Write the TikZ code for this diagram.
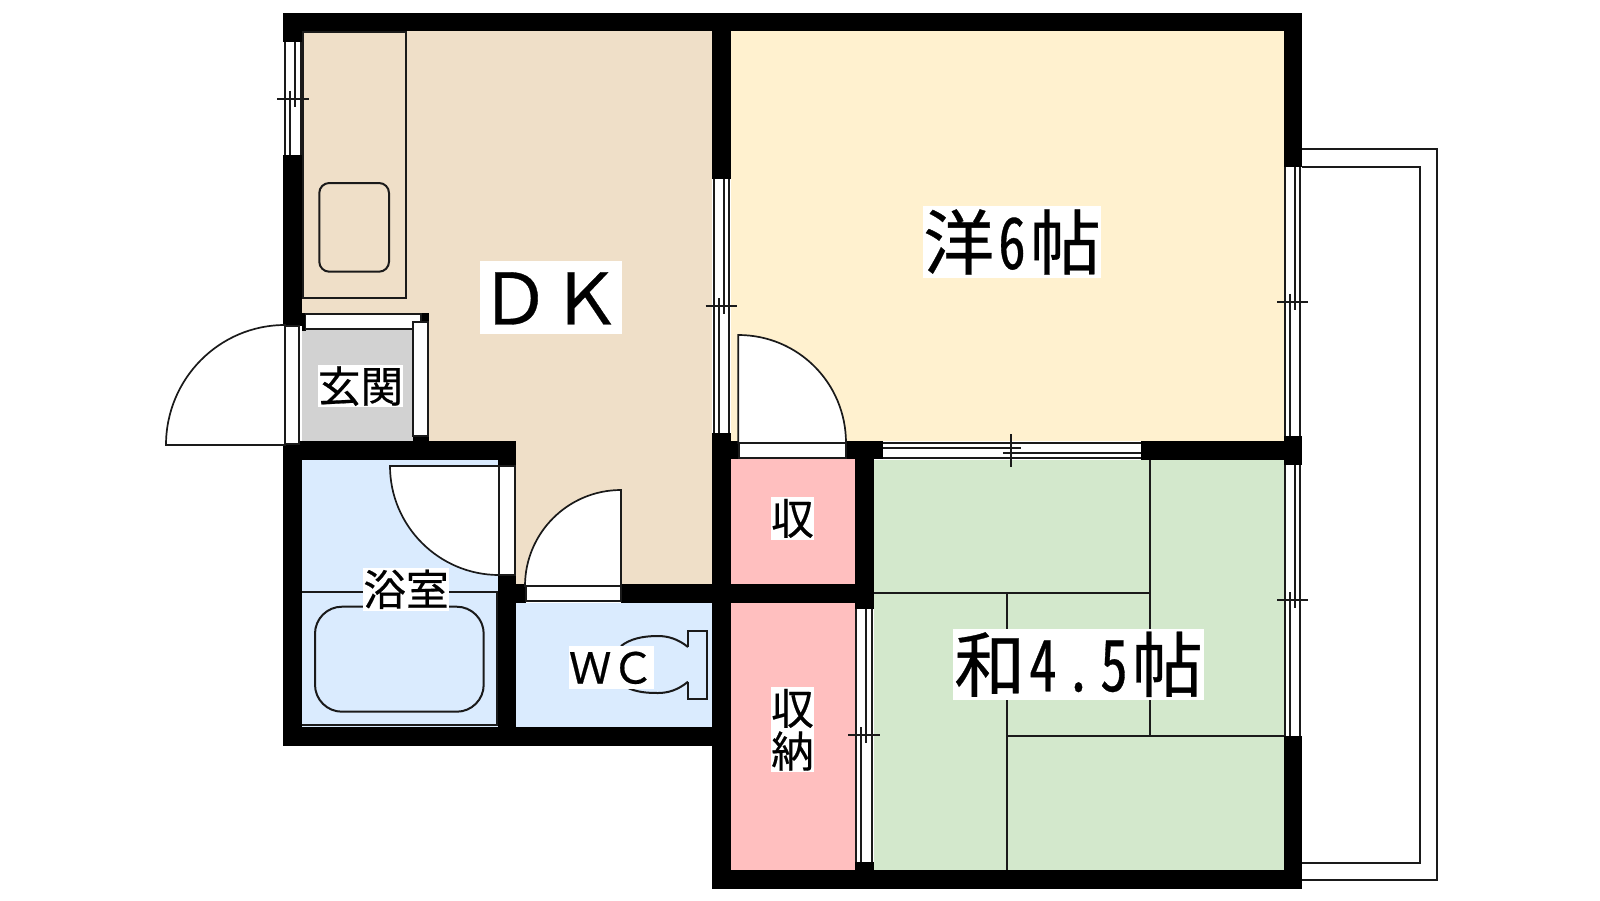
\documentclass[tikz,border=0pt]{standalone}
\usepackage{fontspec}
\newfontfamily\ja[FakeBold=0.45]{Noto Sans CJK JP}
\newfontfamily\jahw[FakeBold=0.45,FakeStretch=0.78,RawFeature=+hwid]{Noto Sans CJK JP}
\newcommand{\hwc}[1]{\makebox[.5em][c]{\jahw #1}}
\definecolor{dkc}{HTML}{EFDFC8}
\definecolor{yoc}{HTML}{FFF1CF}
\definecolor{wac}{HTML}{D3E8CC}
\definecolor{bac}{HTML}{DAEBFE}
\definecolor{shc}{HTML}{FFBFBF}
\definecolor{gec}{HTML}{D2D2D2}
\definecolor{linec}{HTML}{1A1A1A}
\tikzset{
  wall/.style={fill=black,draw=none},
  thin line/.style={draw=linec,line width=.85pt},
  fixture/.style={draw=linec,line width=1pt},
  pane/.style={fill=white,draw=linec,line width=.85pt},
  tag/.style={fill=white,inner sep=0pt,text=black,anchor=center},
  bigtag/.style={tag,text height=31.24pt,text depth=4.26pt,font=\ja\fontsize{35.5}{35.5}\selectfont},
  smalltag/.style={tag,text height=18.77pt,text depth=2.56pt,font=\ja\fontsize{21.33}{21.33}\selectfont},
}
% vertical sliding window: x1 x2 y1 y2 midy
\newcommand{\vwin}[5]{%
  \fill[white] (#1,#3) rectangle (#2,#4);
  \draw[thin line] (#1,#3) -- (#1,#4) (#2,#3) -- (#2,#4);
  \draw[thin line] ({#1+5},{#5-8}) -- ({#1+5},#4);
  \draw[thin line] ({#1+10},#3) -- ({#1+10},{#5+8});
  \draw[thin line] ({#1-8},#5) -- ({#2+8},#5);
}
\begin{document}
\begin{tikzpicture}[x=.5pt,y=-.5pt]
\useasboundingbox (0,0) rectangle (1600,900);
% floors
\fill[dkc] (302,31) rectangle (712,584);
\fill[yoc] (731,31) rectangle (1284,441);
\fill[wac] (874,460) rectangle (1284,870);
\fill[shc] (731,459) rectangle (855,584);
\fill[shc] (731,603) rectangle (855,870);
\fill[bac] (302,460) rectangle (498,727);
\fill[bac] (516,603) rectangle (712,727);
\fill[gec] (302,330) rectangle (413,441);
% balcony
\draw[thin line] (1302,149.3) -- (1436.7,149.3) -- (1436.7,880.3) -- (1302,880.3);
\draw[thin line] (1302,166.7) -- (1419.7,166.7) -- (1419.7,863.3) -- (1302,863.3);
% kitchen counter and sink
\draw[thin line] (303,32) rectangle (405.7,298);
\draw[fixture,rounded corners=5pt] (319.3,183) rectangle (389,271.7);
% bath
\draw[thin line] (302,591.7) -- (497,591.7) -- (497,725) -- (302,725);
\draw[fixture,rounded corners=13.5pt] (315,606.7) rectangle (483.7,711.7);
% toilet
\draw[fixture] (688,647) .. controls (678,639) and (668,636) .. (658,636) .. controls (642,636) and (630,639) .. (621,646);
\draw[fixture] (688,681.7) .. controls (678,690) and (668,693) .. (658,693) .. controls (646,693) and (637,692) .. (628,688);
\draw[fixture] (688,647) -- (688,631) -- (707,631) -- (707,698.7) -- (688,698.7) -- (688,681.7);
% tatami
\draw[thin line] (874,593.3) -- (1150.3,593.3);
\draw[thin line] (1150.3,460) -- (1150.3,736);
\draw[thin line] (1007.3,593.3) -- (1007.3,870);
\draw[thin line] (1007.3,736) -- (1284,736);
% walls
\path[wall] (283,13) rectangle (1302,31);
\path[wall] (283,13) rectangle (302,42);
\path[wall] (283,155) rectangle (302,326);
\path[wall] (302,313) rectangle (305.5,331);
\path[wall] (283,441) rectangle (302,746);
\path[wall] (283,441) rectangle (515.7,460);
\path[wall] (498,441) rectangle (515.7,466);
\path[wall] (498,575.7) rectangle (516,746);
\path[wall] (516,584) rectangle (526,602.7);
\path[wall] (283,727) rectangle (731,746);
\path[wall] (621,584) rectangle (874,602.7);
\path[wall] (712,13) rectangle (731,178.6);
\path[wall] (712,433) rectangle (731,889);
\path[wall] (731,441) rectangle (739,459.3);
\path[wall] (846,441) rectangle (883,459.3);
\path[wall] (855,459) rectangle (874,609);
\path[wall] (855,862.3) rectangle (874,889);
\path[wall] (712,870) rectangle (1302,889);
\path[wall] (1141,441) rectangle (1302,460);
\path[wall] (1284,13) rectangle (1302,166.7);
\path[wall] (1284,435.7) rectangle (1302,465.3);
\path[wall] (1284,735.7) rectangle (1302,889);
\path[wall] (420.7,313) rectangle (429,322);
\path[wall] (413,435.7) rectangle (429,441);
% windows
\vwin{285}{301}{42}{155}{98.7}
\vwin{713.7}{729}{178.6}{433}{306}
\vwin{1285.3}{1300.3}{166.7}{435.7}{301.7}
\vwin{1285.3}{1300.3}{465.3}{735.7}{600.3}
\vwin{856.3}{872.3}{609}{862.3}{735}
\fill[white] (883,443.3) rectangle (1141,458.3);
\draw[thin line] (883,443.3) -- (1141,443.3) (883,458.3) -- (1141,458.3);
\draw[thin line] (883,448.3) -- (1020.7,448.3);
\draw[thin line] (1003.3,452.7) -- (1141,452.7);
\draw[thin line] (1011.3,434.3) -- (1011.3,466.7);
% entrance partition
\path[pane] (305.5,314) rectangle (420.7,329);
\path[pane] (413,322) rectangle (428,435.7);
% door frames
\path[pane] (285,326) rectangle (299,444);
\path[pane] (499,466) rectangle (515,575);
\path[pane] (526,586) rectangle (621,600.7);
\path[pane] (739,443.3) rectangle (846,458.3);
% door leaves
\path[pane] (285,325) .. controls (219,325) and (166,379) .. (166,445) -- (285,445) -- cycle;
\path[pane] (390,466) .. controls (390,526) and (439,575) .. (499,575) -- (499,466) -- cycle;
\path[pane] (525,586) .. controls (525,533) and (568,490) .. (621,490) -- (621,586) -- cycle;
\path[pane] (738.3,335) .. controls (798,335) and (846,383) .. (846,443) -- (738.3,443) -- cycle;
% labels
\node[bigtag,minimum width=70.5pt,minimum height=36.5pt] (dk) at (550.5,297.5) {ＤＫ};
\node[bigtag,minimum width=89pt,minimum height=35.75pt] (yo) at (1012,242) {洋\hwc{6}帖};
\node[bigtag,minimum width=125.5pt,minimum height=35.35pt] (wa) at (1078.5,664.3) {和\hwc{4}\hwc{.}\hwc{5}帖};
\node[smalltag,minimum width=42.5pt,minimum height=21pt] (ge) at (360.5,386) {玄関};
\node[smalltag,minimum width=43pt,minimum height=21.35pt] (yu) at (406,589.3) {浴室};
\node[smalltag,minimum width=42.5pt,minimum height=21.35pt] (wc) at (611.5,667.3) {ＷＣ};
\node[smalltag,minimum width=21.5pt,minimum height=21.35pt] (sh) at (792.5,518.3) {収};
\node[smalltag,minimum width=21.5pt,minimum height=21.35pt] (sn1) at (792.5,708.3) {収};
\node[smalltag,minimum width=21.5pt,minimum height=21.35pt] (sn2) at (792.5,751) {納};
\end{tikzpicture}
\end{document}
